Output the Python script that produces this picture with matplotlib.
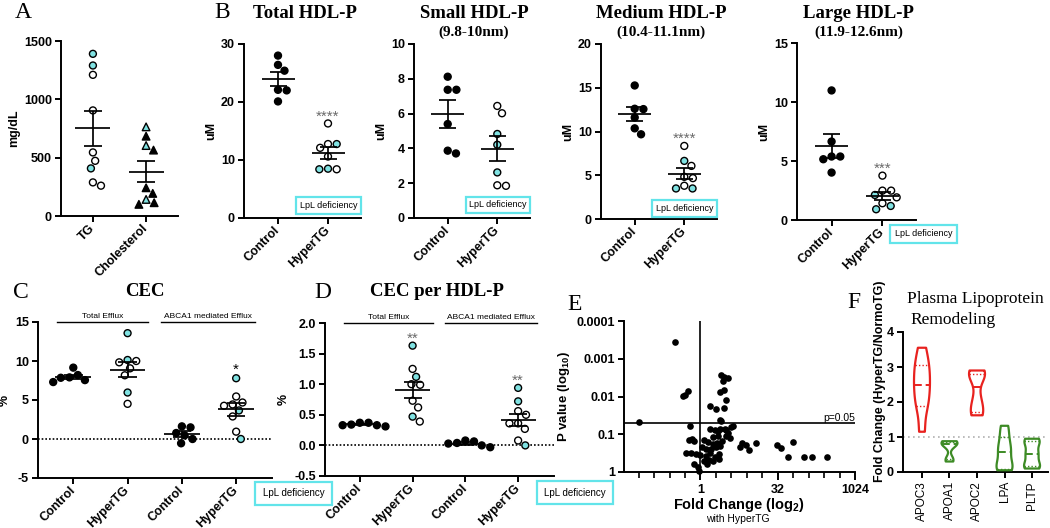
import numpy as np
import matplotlib
matplotlib.use('Agg')
import matplotlib.pyplot as plt
from matplotlib.patches import Rectangle
from matplotlib import mlab
from matplotlib.ticker import FixedLocator, FixedFormatter, NullFormatter, NullLocator

plt.rcParams['font.family'] = ['Liberation Sans', 'DejaVu Sans']
plt.rcParams['font.weight'] = 'bold'
plt.rcParams['axes.labelweight'] = 'bold'
plt.rcParams['axes.unicode_minus'] = False
plt.rcParams['mathtext.fontset'] = 'custom'
plt.rcParams['mathtext.rm'] = 'Liberation Sans:bold'
plt.rcParams['mathtext.default'] = 'rm'

SERIF = ['Liberation Serif', 'DejaVu Serif']
CYAN = '#80e2e2'
BOXC = '#62e4ea'
STARC = '#6a6a6a'
RED = '#e8221f'
GREEN = '#3d8b25'

# ---------------- data ----------------
# Panel A
a_categories = ['TG', 'Cholesterol']
a_tg = [1390, 1290, 1210, 905, 545, 473, 408, 260, 288]
a_tg_lpl = [1, 1, 0, 0, 0, 0, 1, 0, 0]
a_chol = [764, 684, 604, 565, 242, 194, 142, 100, 114]
a_chol_lpl = [1, 0, 1, 0, 0, 0, 1, 0, 0]

# Panel B
b_titles = ['Total HDL-P', 'Small HDL-P', 'Medium HDL-P', 'Large HDL-P']
b_subtitles = ['', '(9.8-10nm)', '(10.4-11.1nm)', '(11.9-12.6nm)']
b_groups = ['Control', 'HyperTG']
b_control = [
    [28.0, 26.4, 25.4, 22.1, 22.0, 20.1],
    [8.12, 7.37, 7.37, 5.4, 3.71, 3.87],
    [15.26, 12.6, 12.56, 11.6, 10.36, 9.68],
    [10.98, 6.65, 5.38, 5.15, 4.02, 5.38],
]
b_hyper = [
    [16.3, 12.75, 12.75, 12.1, 10.6, 8.4, 8.5, 8.4],
    [6.44, 6.02, 4.83, 4.21, 2.62, 1.85, 1.88],
    [8.35, 6.64, 6.07, 4.82, 4.67, 3.49, 3.49, 3.8],
    [3.76, 2.49, 2.49, 2.12, 1.92, 0.91, 1.19, 1.42],
]
b_hyper_lpl = [
    [0, 0, 1, 0, 0, 0, 1, 1],
    [0, 0, 1, 1, 1, 0, 0],
    [0, 1, 0, 0, 0, 1, 1, 0],
    [0, 0, 0, 1, 0, 1, 1, 0],
]
b_stars = ['****', '', '****', '***']
b_ymax = [30, 10, 20, 15]
b_ystep = [10, 2, 5, 5]

# Panel C (CEC, %)
cd_groups = ['Control', 'HyperTG', 'Control', 'HyperTG']
cd_brackets = ['Total Efflux', 'ABCA1 mediated Efflux']
c_total_control = [9.15, 8.2, 7.9, 7.85, 7.55, 7.3]
c_total_hyper = [13.57, 10.0, 10.13, 9.83, 9.06, 8.17, 5.96, 4.51]
c_total_hyper_lpl = [1, 0, 1, 0, 0, 0, 1, 0]
c_abca1_control = [1.49, 1.62, 0.77, 0.47, 0.0, -0.55]
c_abca1_hyper = [7.79, 5.45, 4.43, 4.68, 4.26, 3.66, 2.89, 0.94, 0.0]
c_abca1_hyper_lpl = [1, 0, 0, 0, 0, 1, 0, 0, 1]
c_stars = ['', '', '', '*']

# Panel D (CEC per HDL-P, %)
d_total_control = [0.33, 0.37, 0.33, 0.37, 0.31, 0.34]
d_total_hyper = [1.63, 1.25, 1.12, 0.99, 1.0, 0.73, 0.62, 0.39, 0.47]
d_total_hyper_lpl = [1, 0, 1, 0, 0, 0, 0, 0, 1]
d_abca1_control = [0.0, 0.08, 0.03, 0.065, -0.03, 0.04]
d_abca1_hyper = [0.94, 0.72, 0.56, 0.50, 0.36, 0.36, 0.27, 0.0, 0.08]
d_abca1_hyper_lpl = [1, 1, 0, 0, 0, 0, 0, 1, 0]
d_stars = ['', '**', '', '**']

# Panel E (volcano): log2 fold change, -log10 p
e_log2fc = [-3.96, -1.62, -1.10, -0.99, -0.83, -0.67, -0.72, -0.54, -0.39, -0.93,
            -0.61, -0.32, -0.45, -0.17, -0.11, 0.63, 1.02, 1.34, 1.51, 1.75,
            1.44, 1.28, 1.49, 1.62, 1.49, 1.24, 1.34, 0.63, 0.91, 1.24,
            1.62, 2.0, 2.1, 1.77, 1.89, 1.13, 1.56, 2.71, 2.53, 2.97,
            3.14, 3.57, 4.92, 5.2, 6.0, 5.68, 6.69, 7.19, 8.2, 0.23,
            0.48, 0.78, 1.08, 1.38, 0.08, 0.38, 0.68, 0.98, 1.28, -0.02,
            0.33, 0.63, 0.93, 1.23, 0.23, 0.53, 0.83, 1.18, 0.43, 1.13,
            1.68, 0.83]
e_neglog10p = [1.33, 3.45, 2.01, 2.04, 2.15, 1.22, 0.85, 0.87, 0.82, 0.50,
               0.50, 0.48, 0.20, 0.12, 0.03, 1.75, 1.66, 2.57, 2.52, 2.48,
               2.40, 2.13, 2.17, 1.91, 1.69, 1.38, 1.36, 1.13, 1.11, 1.13,
               1.11, 1.18, 1.22, 1.02, 0.89, 1.09, 1.13, 0.76, 0.67, 0.72,
               0.58, 0.78, 0.72, 0.64, 0.80, 0.39, 0.39, 0.39, 0.39, 0.85,
               0.80, 0.75, 0.78, 0.82, 0.65, 0.62, 0.60, 0.65, 0.70, 0.45,
               0.42, 0.50, 0.40, 0.48, 0.30, 0.33, 0.28, 0.35, 0.22, 0.95,
               0.95, 0.92]
e_xticks = [1, 32, 1024]
e_xticklabels = ['1', '32', '1024']
e_yticks = [1e-4, 1e-3, 1e-2, 1e-1, 1]
e_yticklabels = ['0.0001', '0.001', '0.01', '0.1', '1']
e_pcut = 0.05

# Panel F (violins)
f_genes = ['APOC3', 'APOA1', 'APOC2', 'LPA', 'PLTP']
f_values = [
    [1.15, 1.85, 2.05, 2.45, 2.55, 2.95, 3.1, 3.55],
    [0.3, 0.38, 0.78, 0.8, 0.84, 0.88],
    [1.62, 1.75, 2.1, 2.75, 2.78, 2.9],
    [0.05, 0.1, 0.25, 0.57, 0.7, 1.0, 1.32],
    [0.1, 0.15, 0.22, 0.5, 0.52, 0.8, 0.9, 0.95],
]
f_up = [True, False, True, False, False]

# ---------------- figure ----------------
W, H = 1050, 528
fig = plt.figure(figsize=(W / 100, H / 100), dpi=100)


def add_ax(l, t, r, b):
    return fig.add_axes([l / W, 1 - b / H, (r - l) / W, (b - t) / H])


def ftext(x, y, s, **kw):
    return fig.text(x / W, 1 - y / H, s, **kw)


def style(ax):
    for s in ('top', 'right'):
        ax.spines[s].set_visible(False)
    for s in ('left', 'bottom'):
        ax.spines[s].set_linewidth(1.4)
    ax.tick_params(axis='both', which='major', width=1.4, length=4.5,
                   labelsize=9, pad=2)
    ax.tick_params(axis='both', which='minor', width=1.2, length=3)


def swarm_x(ax, pos, vals, d=8.7):
    v = np.asarray(vals, float)
    T = ax.transData
    ypx = T.transform(np.column_stack([np.full(len(v), pos), v]))[:, 1]
    ppu = T.transform([[pos + 1, 0]])[0, 0] - T.transform([[pos, 0]])[0, 0]
    placed = []
    xs = np.empty(len(v))
    for i in np.argsort(-v, kind='stable'):
        ivs = []
        for px, py in placed:
            dy = abs(ypx[i] - py)
            if dy < d:
                h = np.sqrt(d * d - dy * dy)
                ivs.append((px - h, px + h))
        cands = [0.0] + [a for iv in ivs for a in iv]
        cands.sort(key=lambda c: (abs(c), -c))
        c = 0.0
        for c in cands:
            if all(not (lo + 1e-6 < c < hi - 1e-6) for lo, hi in ivs):
                break
        placed.append((c, ypx[i]))
        xs[i] = pos + c / ppu
    return xs


def mean_sem(ax, pos, vals, mw=0.33, cw=0.17):
    v = np.asarray(vals, float)
    m = v.mean()
    s = v.std(ddof=1) / np.sqrt(len(v))
    kw = dict(color='k', lw=1.25, zorder=4, solid_capstyle='butt', clip_on=False)
    ax.plot([pos - mw, pos + mw], [m, m], **kw)
    ax.plot([pos - cw, pos + cw], [m + s, m + s], **kw)
    ax.plot([pos - cw, pos + cw], [m - s, m - s], **kw)
    ax.plot([pos, pos], [m - s, m + s], **kw)


def group(ax, pos, vals, lpl=None, marker='o', base='k', s=25):
    xs = swarm_x(ax, pos, vals)
    if lpl is None:
        fc = [base] * len(vals)
    else:
        fc = [CYAN if f else base for f in lpl]
    ax.scatter(xs, vals, s=s, marker=marker, facecolors=fc, edgecolors='k',
               linewidths=1.0, zorder=3, clip_on=False)
    mean_sem(ax, pos, vals)


def stars(ax, pos, vals, txt, color=STARC, dy=2, fs=11):
    if txt:
        ax.annotate(txt, (pos, max(vals)), xytext=(0, dy), textcoords='offset points',
                    ha='center', va='baseline', fontsize=fs, color=color,
                    fontweight='normal', annotation_clip=False)


def lpl_box(l, t, r, b, fs):
    fig.patches.append(Rectangle((l / W, 1 - b / H), (r - l) / W, (b - t) / H,
                                 transform=fig.transFigure, fill=False,
                                 ec=BOXC, lw=1.6, zorder=5))
    ftext((l + r) / 2, (t + b) / 2, 'LpL deficiency', ha='center', va='center',
          fontsize=fs, fontweight='normal', zorder=6)


def letter(x, y, s):
    ftext(x, y, s, ha='center', va='center', family=SERIF, fontsize=17,
          fontweight='normal')


def cat_xticks(ax, labels, rot=45):
    ax.set_xticks(range(len(labels)))
    ax.set_xticklabels(labels, rotation=rot, ha='right', va='center',
                       rotation_mode='anchor')
    ax.tick_params(axis='x', pad=3)


# ---- Panel A ----
axA = add_ax(61, 41, 178, 216)
style(axA)
axA.set_xlim(-0.6, 1.6)
axA.set_ylim(0, 1500)
axA.set_yticks([0, 500, 1000, 1500])
cat_xticks(axA, a_categories)
axA.set_ylabel('mg/dL', fontsize=9, labelpad=3)
group(axA, 0, a_tg, a_tg_lpl, 'o', 'white')
group(axA, 1, a_chol, a_chol_lpl, '^', 'k', s=30)
letter(23, 13, 'A')

# ---- Panel B ----
b_rects = [(244, 44, 361, 218), (414, 44, 530, 218), (601, 44, 717, 219), (797, 43, 916, 220)]
b_boxes = [(296, 197, 361, 214), (466, 197, 530, 213), (652, 200, 717, 217), (890, 225, 957, 243)]
for k in range(4):
    l, t, r, b = b_rects[k]
    ax = add_ax(l, t, r, b)
    style(ax)
    ax.set_xlim(-0.68, 1.66)
    ax.set_ylim(0, b_ymax[k])
    ax.set_yticks(np.arange(0, b_ymax[k] + 0.01, b_ystep[k]))
    cat_xticks(ax, b_groups)
    ax.set_ylabel('uM', fontsize=9, labelpad=3)
    group(ax, 0, b_control[k])
    group(ax, 1, b_hyper[k], b_hyper_lpl[k], 'o', 'white')
    stars(ax, 1, b_hyper[k], b_stars[k])
    cx = (l + r) / 2 + 2
    ftext(cx, 13, b_titles[k], ha='center', va='center', family=SERIF,
          fontsize=13.5, fontweight='bold')
    if b_subtitles[k]:
        ftext(cx, 32, b_subtitles[k], ha='center', va='center', family=SERIF,
              fontsize=11, fontweight='bold')
    lpl_box(*b_boxes[k], fs=6.5)
letter(222, 12, 'B')


def bracket(ax, x0, x1, label):
    tr = ax.get_xaxis_transform()
    ax.plot([x0, x1], [1.0, 1.0], transform=tr, color='k', lw=1.0, clip_on=False)
    ax.annotate(label, ((x0 + x1) / 2, 1.0), xycoords=tr, xytext=(0, 1.5),
                textcoords='offset points', ha='center', va='bottom',
                fontsize=6, fontweight='normal', annotation_clip=False)


def cec_panel(ax, ctrl1, hyp1, lpl1, ctrl2, hyp2, lpl2, st, star_color, star_dy):
    ax.axhline(0, color='k', lw=1.2, ls=(0, (1, 1.2)), zorder=1)
    group(ax, 0, ctrl1)
    group(ax, 1, hyp1, lpl1, 'o', 'white')
    group(ax, 2, ctrl2)
    group(ax, 3, hyp2, lpl2, 'o', 'white')
    for p, vals in zip(range(4), [ctrl1, hyp1, ctrl2, hyp2]):
        stars(ax, p, vals, st[p], color=star_color, dy=star_dy, fs=11)
    bracket(ax, -0.3, 1.38, cd_brackets[0])
    bracket(ax, 1.62, 3.35, cd_brackets[1])
    cat_xticks(ax, cd_groups)
    ax.set_ylabel('%', fontsize=9, labelpad=3)


# ---- Panel C ----
axC = add_ax(38, 322, 272, 478)
style(axC)
axC.set_xlim(-0.65, 3.66)
axC.set_ylim(-5, 15)
axC.set_yticks([-5, 0, 5, 10, 15])
cec_panel(axC, c_total_control, c_total_hyper, c_total_hyper_lpl,
          c_abca1_control, c_abca1_hyper, c_abca1_hyper_lpl, c_stars, 'k', 3.5)
ftext(145, 292, 'CEC', ha='center', va='center', family=SERIF, fontsize=13.5,
      fontweight='bold')
letter(21, 292, 'C')
lpl_box(255, 482, 332, 505, fs=7)

# ---- Panel D ----
axD = add_ax(325, 323, 554, 476)
style(axD)
axD.set_xlim(-0.66, 3.68)
axD.set_ylim(-0.5, 2.0)
axD.set_yticks([-0.5, 0.0, 0.5, 1.0, 1.5, 2.0])
axD.set_yticklabels(['-0.5', '0.0', '0.5', '1.0', '1.5', '2.0'])
cec_panel(axD, d_total_control, d_total_hyper, d_total_hyper_lpl,
          d_abca1_control, d_abca1_hyper, d_abca1_hyper_lpl, d_stars, STARC, 2)
ftext(437, 291, 'CEC per HDL-P', ha='center', va='center', family=SERIF,
      fontsize=13.5, fontweight='bold')
letter(323, 292, 'D')
lpl_box(537, 481, 613, 504, fs=7)

# ---- Panel E ----
axE = add_ax(624, 321, 855, 472)
style(axE)
axE.set_xscale('log', base=2)
axE.set_yscale('log')
axE.set_xlim(2 ** -4.95, 2 ** 10)
axE.set_ylim(1, 1e-4)
fc = 2.0 ** np.asarray(e_log2fc)
pv = 10.0 ** (-np.asarray(e_neglog10p))
axE.scatter(fc, pv, s=23, c='k', zorder=3, clip_on=False, linewidths=0)
axE.axvline(1, color='k', lw=1.2, zorder=2)
axE.axhline(e_pcut, color='k', lw=1.2, zorder=2)
axE.text(2 ** 10, e_pcut, 'p=0.05', ha='right', va='bottom', fontsize=7.5,
         fontweight='normal')
axE.xaxis.set_major_locator(FixedLocator(e_xticks))
axE.xaxis.set_major_formatter(FixedFormatter(e_xticklabels))
axE.xaxis.set_minor_locator(FixedLocator([2.0 ** k for k in range(-4, 10) if k not in (0, 5)]))
axE.xaxis.set_minor_formatter(NullFormatter())
axE.yaxis.set_major_locator(FixedLocator(e_yticks))
axE.yaxis.set_major_formatter(FixedFormatter(e_yticklabels))
axE.yaxis.set_minor_locator(NullLocator())
axE.tick_params(axis='x', which='major', length=5.5, pad=3)
axE.tick_params(axis='x', which='minor', length=4)
axE.set_ylabel('P value (log$_{10}$)', fontsize=9.5, labelpad=3)
ftext(739, 505, 'Fold Change (log$_2$)', ha='center', va='center', fontsize=10.5)
ftext(738, 519, 'with HyperTG', ha='center', va='center', fontsize=7.5,
      fontweight='normal')
letter(575, 304, 'E')

# ---- Panel F ----
axF = add_ax(903, 332, 1048, 472)
style(axF)
axF.set_xlim(-0.69, 4.58)
axF.set_ylim(0, 4)
axF.set_yticks([0, 1, 2, 3, 4])
axF.axhline(1, color='#b0b0b0', lw=1.2, ls=(0, (1, 2)), zorder=1)


def violin(ax, pos, vals, color, half=0.29):
    v = np.asarray(vals, float)
    kde = mlab.GaussianKDE(v, bw_method=0.45)
    yy = np.linspace(v.min(), v.max(), 200)
    dens = kde.evaluate(yy)
    w = half * dens / dens.max()
    ax.fill_betweenx(yy, pos - w, pos + w, facecolor='none', edgecolor=color,
                     lw=1.6, zorder=3)
    q1, med, q3 = np.percentile(v, [25, 50, 75], method='weibull')
    for q, ls, lw in [(med, (0, (4, 2)), 1.4), (q1, (0, (1, 1.5)), 1.0),
                      (q3, (0, (1, 1.5)), 1.0)]:
        wq = np.interp(q, yy, w)
        ax.plot([pos - wq, pos + wq], [q, q], color=color, ls=ls, lw=lw, zorder=3)


for i, (vals, up) in enumerate(zip(f_values, f_up)):
    violin(axF, i, vals, RED if up else GREEN)
axF.set_xticks(range(len(f_genes)))
axF.set_xticklabels(f_genes, rotation=90, fontweight='normal', fontsize=8.5)
ftext(880, 381, 'Fold Change (HyperTG/NormoTG)', ha='center', va='center',
      rotation=90, fontsize=9)
ftext(907, 299, 'Plasma Lipoprotein', ha='left', va='center', family=SERIF,
      fontsize=12.5, fontweight='normal')
ftext(910, 320, 'Remodeling', ha='left', va='center', family=SERIF,
      fontsize=12.5, fontweight='normal')
letter(854, 302, 'F')

fig.savefig('out.png', dpi=100)
